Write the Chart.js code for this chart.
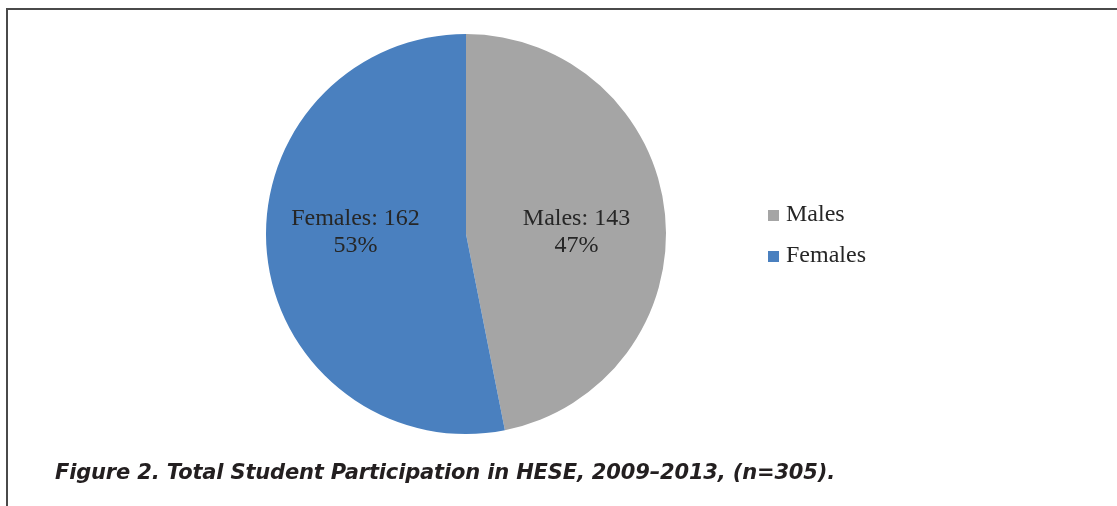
<!DOCTYPE html>
<html>
<head>
<meta charset="utf-8">
<script src="https://cdn.jsdelivr.net/npm/chart.js@4"></script>
<style>
  html, body { margin: 0; padding: 0; background: #fff; }
  #wrap { position: relative; width: 1117px; height: 506px; overflow: hidden; }
  #frameTop { position: absolute; left: 6px; top: 8px; width: 1111px; height: 2px; background: #4a4a4a; }
  #frameLeft { position: absolute; left: 6px; top: 8px; width: 2px; height: 498px; background: #4a4a4a; }
  #caption {
    position: absolute; left: 55px; top: 459px;
    font-family: "DejaVu Sans", sans-serif; font-weight: 700; font-style: italic;
    font-size: 21px; line-height: 26px; color: #231f20; white-space: nowrap;
  }
  canvas { position: absolute; left: 0; top: 0; }
</style>
</head>
<body>
<div id="wrap">
  <canvas id="pieChart" width="1117" height="506"></canvas>
  <div id="frameTop"></div>
  <div id="frameLeft"></div>
  <div id="caption">Figure 2. Total Student Participation in HESE, 2009–2013, (n=305).</div>
</div>
<script>
// datos del grafico
const labels = ['Males', 'Females'];
const counts = [143, 162];
const colors = ['#a5a5a5', '#4a80bf'];

const total = counts.reduce((a, b) => a + b, 0);
const serif = '"Times New Roman", "Liberation Serif", Times, serif';

// etiquetas dentro de cada porcion
const sliceLabels = {
    id: 'sliceLabels',
    afterDatasetsDraw(chart) {
        const ctx = chart.ctx;
        const meta = chart.getDatasetMeta(0);
        ctx.save();
        ctx.font = '24px ' + serif;
        ctx.fillStyle = '#262626';
        ctx.textAlign = 'center';
        ctx.textBaseline = 'middle';
        meta.data.forEach((arc, i) => {
            const p = arc.getProps(['x', 'y', 'startAngle', 'endAngle', 'outerRadius'], true);
            const mid = (p.startAngle + p.endAngle) / 2;
            const x = p.x + Math.cos(mid) * p.outerRadius * 0.555;
            const pct = Math.round(counts[i] / total * 100);
            ctx.fillText(labels[i] + ': ' + counts[i], x, p.y - 15);
            ctx.fillText(pct + '%', x, p.y + 12);
        });
        ctx.restore();
    }
};

// leyenda a la derecha
const sideLegend = {
    id: 'sideLegend',
    afterDraw(chart) {
        const ctx = chart.ctx;
        ctx.save();
        ctx.font = '24px ' + serif;
        ctx.textBaseline = 'alphabetic';
        labels.forEach((name, i) => {
            const y = 221 + i * 41;
            ctx.fillStyle = colors[i];
            ctx.fillRect(768, y - 11, 11, 11);
            ctx.fillStyle = '#262626';
            ctx.fillText(name, 786, y);
        });
        ctx.restore();
    }
};

new Chart(document.getElementById('pieChart'), {
    type: 'pie',
    data: {
        labels: labels,
        datasets: [{
            data: counts,
            backgroundColor: colors,
            borderWidth: 0
        }]
    },
    options: {
        responsive: false,
        animation: false,
        layout: {
            padding: { left: 266, right: 451, top: 34, bottom: 72 }
        },
        plugins: {
            legend: { display: false },
            tooltip: { enabled: false }
        }
    },
    plugins: [sliceLabels, sideLegend]
});

// ajustar el ancho del pie de figura
const cap = document.getElementById('caption');
const w = cap.getBoundingClientRect().width;
cap.style.letterSpacing = ((780 - w) / cap.textContent.length) + 'px';
</script>
</body>
</html>
